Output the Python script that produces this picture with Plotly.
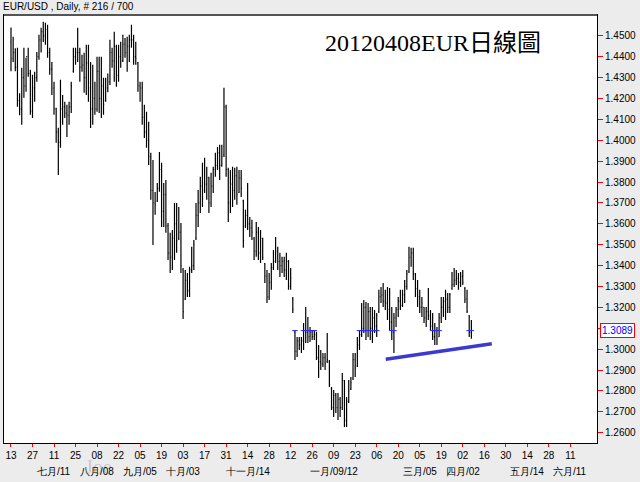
import plotly.graph_objects as go

# ---------------- data (EUR/USD daily, 2011-06-13 .. 2012-04-06) ----------------
bar_index = list(range(215))

opens = [1.4470,1.4390,1.4420,1.4350,1.4190,1.4150,1.4300,1.4260,1.4400,1.4320,
1.4140,1.4250,1.4300,1.4400,1.4480,1.4520,1.4500,1.4530,1.4420,1.4340,
1.4250,1.4150,1.4040,1.3990,1.4150,1.4160,1.4130,1.4120,1.4160,1.4330,
1.4400,1.4420,1.4420,1.4350,1.4360,1.4300,1.4370,1.4250,1.4150,1.4200,
1.4150,1.4330,1.4200,1.4260,1.4190,1.4250,1.4280,1.4420,1.4380,1.4450,
1.4310,1.4400,1.4380,1.4460,1.4420,1.4450,1.4480,1.4480,1.4400,1.4370,
1.4260,1.4250,1.4110,1.4040,1.4000,1.3920,1.3760,1.3700,1.3710,1.3770,
1.3860,1.3660,1.3740,1.3590,1.3460,1.3440,1.3530,1.3600,1.3530,1.3560,
1.3380,1.3240,1.3330,1.3280,1.3380,1.3400,1.3530,1.3640,1.3700,1.3780,
1.3760,1.3790,1.3820,1.3700,1.3780,1.3860,1.3880,1.3940,1.3880,1.3930,
1.4160,1.3860,1.3700,1.3790,1.3760,1.3830,1.3750,1.3820,1.3710,1.3590,
1.3640,1.3600,1.3580,1.3530,1.3470,1.3560,1.3460,1.3530,1.3410,1.3350,
1.3250,1.3320,1.3390,1.3420,1.3470,1.3420,1.3400,1.3420,1.3380,1.3420,
1.3300,1.3240,1.3080,1.2990,1.3040,1.3020,1.3040,1.3090,1.3080,1.3060,
1.3080,1.3060,1.3070,1.2960,1.2940,1.2930,1.2960,1.2940,1.2940,1.2810,
1.2720,1.2780,1.2720,1.2760,1.2720,1.2850,1.2660,1.2750,1.2810,1.2860,
1.2950,1.2920,1.3020,1.3070,1.3100,1.3200,1.3090,1.3180,1.3100,1.3150,
1.3110,1.3180,1.3250,1.3260,1.3230,1.3220,1.3190,1.3130,1.3080,1.3150,
1.3190,1.3230,1.3210,1.3260,1.3300,1.3370,1.3440,1.3460,1.3360,1.3290,
1.3250,1.3200,1.3200,1.3150,1.3180,1.3160,1.3110,1.3060,1.3090,1.3060,
1.3150,1.3200,1.3230,1.3240,1.3200,1.3290,1.3310,1.3330,1.3340,1.3320,
1.3350,1.3290,1.3240,1.3160,1.3080]

highs = [1.4540,1.4495,1.4440,1.4443,1.4225,1.4347,1.4443,1.4395,1.4443,1.4337,
1.4313,1.4328,1.4423,1.4505,1.4538,1.4567,1.4562,1.4553,1.4443,1.4375,
1.4280,1.4155,1.4060,1.4289,1.4217,1.4184,1.4170,1.4184,1.4280,1.4443,
1.4443,1.4538,1.4443,1.4409,1.4419,1.4457,1.4457,1.4375,1.4361,1.4280,
1.4400,1.4400,1.4400,1.4299,1.4299,1.4320,1.4481,1.4443,1.4519,1.4457,
1.4457,1.4471,1.4505,1.4490,1.4495,1.4505,1.4553,1.4505,1.4471,1.4375,
1.4280,1.4280,1.4170,1.4136,1.4088,1.3940,1.3906,1.3752,1.3796,1.3944,
1.3892,1.3796,1.3810,1.3604,1.3557,1.3571,1.3700,1.3700,1.3681,1.3604,
1.3389,1.3379,1.3365,1.3394,1.3490,1.3523,1.3700,1.3762,1.3825,1.3892,
1.3916,1.3873,1.3825,1.3844,1.3873,1.3940,1.3968,1.3978,1.3978,1.4251,
1.4170,1.3868,1.3858,1.3873,1.3868,1.3873,1.3858,1.3858,1.3715,1.3667,
1.3796,1.3633,1.3619,1.3537,1.3609,1.3585,1.3571,1.3533,1.3413,1.3379,
1.3365,1.3413,1.3475,1.3537,1.3490,1.3461,1.3442,1.3442,1.3461,1.3427,
1.3389,1.3250,1.3092,1.3058,1.3058,1.3058,1.3125,1.3202,1.3154,1.3106,
1.3092,1.3092,1.3083,1.3020,1.2996,1.2982,1.2982,1.3078,1.2948,1.2819,
1.2805,1.2790,1.2790,1.2771,1.2886,1.2852,1.2771,1.2852,1.2867,1.2982,
1.2982,1.3058,1.3092,1.3221,1.3236,1.3226,1.3221,1.3202,1.3202,1.3188,
1.3173,1.3284,1.3298,1.3317,1.3284,1.3298,1.3293,1.3202,1.3173,1.3202,
1.3250,1.3284,1.3284,1.3331,1.3379,1.3490,1.3485,1.3485,1.3365,1.3331,
1.3284,1.3250,1.3202,1.3202,1.3293,1.3188,1.3173,1.3125,1.3106,1.3173,
1.3250,1.3250,1.3284,1.3269,1.3269,1.3370,1.3389,1.3379,1.3365,1.3370,
1.3379,1.3298,1.3284,1.3164,1.3140]

lows = [1.4330,1.4375,1.4330,1.4160,1.4120,1.4074,1.4203,1.4232,1.4304,1.4122,
1.4107,1.4184,1.4280,1.4385,1.4420,1.4470,1.4457,1.4395,1.4313,1.4217,
1.4122,1.3988,1.3834,1.3964,1.4074,1.4107,1.4016,1.4074,1.4131,1.4323,
1.4361,1.4375,1.4280,1.4328,1.4227,1.4217,1.4184,1.4059,1.4074,1.4122,
1.4136,1.4131,1.4107,1.4122,1.4184,1.4230,1.4265,1.4347,1.4280,1.4256,
1.4280,1.4347,1.4375,1.4395,1.4328,1.4375,1.4443,1.4361,1.4361,1.4232,
1.4184,1.4074,1.4011,1.3964,1.3882,1.3715,1.3499,1.3643,1.3705,1.3753,
1.3585,1.3585,1.3557,1.3427,1.3365,1.3379,1.3427,1.3461,1.3523,1.3365,
1.3145,1.3236,1.3250,1.3250,1.3365,1.3379,1.3523,1.3585,1.3652,1.3681,
1.3748,1.3715,1.3652,1.3681,1.3748,1.3825,1.3858,1.3810,1.3873,1.3920,
1.3825,1.3609,1.3652,1.3681,1.3715,1.3691,1.3748,1.3729,1.3485,1.3580,
1.3571,1.3537,1.3523,1.3427,1.3442,1.3427,1.3413,1.3427,1.3317,1.3221,
1.3236,1.3284,1.3379,1.3413,1.3379,1.3346,1.3365,1.3346,1.3331,1.3284,
1.3284,1.3173,1.2948,1.2963,1.2996,1.2982,1.2996,1.3030,1.3030,1.3034,
1.3044,1.3044,1.2948,1.2862,1.2900,1.2915,1.2900,1.2934,1.2819,1.2709,
1.2675,1.2694,1.2661,1.2675,1.2709,1.2627,1.2627,1.2742,1.2805,1.2852,
1.2867,1.2915,1.2996,1.3058,1.3078,1.3044,1.3058,1.3044,1.3030,1.3078,
1.3058,1.3173,1.3221,1.3202,1.3188,1.3140,1.3092,1.3044,1.2982,1.3106,
1.3154,1.3188,1.3202,1.3221,1.3284,1.3365,1.3394,1.3331,1.3250,1.3202,
1.3173,1.3154,1.3125,1.3106,1.3140,1.3092,1.3044,1.3020,1.3020,1.3058,
1.3125,1.3154,1.3140,1.3173,1.3173,1.3284,1.3298,1.3307,1.3284,1.3298,
1.3307,1.3221,1.3173,1.3058,1.3050]

closes = [1.4390,1.4420,1.4350,1.4190,1.4150,1.4300,1.4260,1.4400,1.4320,1.4140,
1.4250,1.4300,1.4400,1.4480,1.4520,1.4500,1.4530,1.4420,1.4340,1.4250,
1.4150,1.4040,1.3990,1.4150,1.4160,1.4130,1.4120,1.4160,1.4260,1.4400,
1.4420,1.4420,1.4350,1.4360,1.4300,1.4370,1.4250,1.4150,1.4200,1.4150,
1.4330,1.4200,1.4260,1.4170,1.4250,1.4280,1.4420,1.4380,1.4450,1.4310,
1.4400,1.4380,1.4460,1.4420,1.4450,1.4480,1.4480,1.4400,1.4390,1.4260,
1.4250,1.4110,1.4040,1.4000,1.3920,1.3760,1.3700,1.3690,1.3770,1.3860,
1.3660,1.3740,1.3590,1.3460,1.3440,1.3530,1.3600,1.3520,1.3560,1.3400,
1.3180,1.3330,1.3280,1.3380,1.3400,1.3500,1.3640,1.3700,1.3780,1.3720,
1.3790,1.3820,1.3700,1.3780,1.3860,1.3880,1.3940,1.3880,1.3920,1.4160,
1.3860,1.3700,1.3790,1.3760,1.3830,1.3740,1.3820,1.3770,1.3520,1.3640,
1.3600,1.3580,1.3560,1.3470,1.3560,1.3460,1.3530,1.3440,1.3350,1.3250,
1.3320,1.3390,1.3420,1.3470,1.3420,1.3400,1.3420,1.3380,1.3420,1.3300,
1.3340,1.3190,1.2990,1.3040,1.3020,1.3040,1.3090,1.3080,1.3060,1.3080,
1.3060,1.3070,1.2960,1.2940,1.2930,1.2960,1.2930,1.2950,1.2830,1.2720,
1.2780,1.2720,1.2760,1.2720,1.2850,1.2660,1.2750,1.2800,1.2840,1.2950,
1.2910,1.3020,1.3070,1.3100,1.3200,1.3090,1.3180,1.3100,1.3150,1.3110,
1.3160,1.3250,1.3260,1.3230,1.3220,1.3190,1.3130,1.3080,1.3150,1.3190,
1.3230,1.3210,1.3260,1.3300,1.3360,1.3440,1.3460,1.3360,1.3290,1.3250,
1.3200,1.3220,1.3150,1.3180,1.3160,1.3110,1.3060,1.3090,1.3050,1.3150,
1.3200,1.3230,1.3240,1.3200,1.3260,1.3310,1.3330,1.3340,1.3320,1.3350,
1.3320,1.3240,1.3180,1.3080,1.3089]

# x-axis ticks (every 10 trading days) and month labels
tick_pos = list(range(0, 261, 10))
tick_labels = ["13","27","11","25","08","22","05","19","03","17","31","14","28",
               "12","26","09","23","06","20","05","19","02","16","30","14","28","11"]
month_pos = [20, 40, 60, 80, 110, 150, 190, 210, 240, 260]
month_labels = ["七月/11","八月/08","九月/05","十月/03","十一月/14",
                "一月/09/12","三月/05","四月/02","五月/14","六月/11"]

y_ticks = [1.26, 1.27, 1.28, 1.29, 1.30, 1.31, 1.32, 1.33, 1.34, 1.35,
           1.36, 1.37, 1.38, 1.39, 1.40, 1.41, 1.42, 1.43, 1.44, 1.45]
last_price = 1.3089

trend_x = [174.2, 223.5]
trend_y = [1.2952, 1.3026]

# bars crossing the bid level
bid_x = [i for i in bar_index if lows[i] <= last_price <= highs[i]]
bid_y = [last_price] * len(bid_x)

# ---------------- figure ----------------
fig = go.Figure()
fig.add_trace(go.Ohlc(
    x=bar_index, open=opens, high=highs, low=lows, close=closes,
    increasing=dict(line=dict(color="#000000", width=1.2)),
    decreasing=dict(line=dict(color="#000000", width=1.2)),
    tickwidth=0.35, hoverinfo="skip", showlegend=False))

fig.add_trace(go.Scatter(
    x=bid_x, y=bid_y, mode="markers",
    marker=dict(symbol="line-ew", size=4, line=dict(color="#2a2aff", width=1)),
    hoverinfo="skip", showlegend=False))

fig.add_trace(go.Scatter(
    x=trend_x, y=trend_y, mode="lines",
    line=dict(color="#3a3ad0", width=3.5),
    hoverinfo="skip", showlegend=False))

fig.update_layout(
    width=640, height=482,
    margin=dict(l=4, r=43, t=15, b=39),
    paper_bgcolor="#ececec", plot_bgcolor="#ffffff",
    font=dict(family="Liberation Sans, Arial, sans-serif", size=10, color="#000000"),
    showlegend=False,
    xaxis=dict(
        range=[-3.25, 272.4], rangeslider=dict(visible=False), automargin=False,
        tickmode="array", tickvals=tick_pos, ticktext=tick_labels,
        ticks="outside", ticklen=3, tickcolor="#ff0000", tickwidth=1,
        showgrid=False, zeroline=False,
        showline=True, linecolor="#000000", linewidth=1, mirror=True,
        tickfont=dict(size=10, color="#000000"),
    ),
    yaxis=dict(
        side="right", range=[1.2551, 1.45995], automargin=False,
        tickmode="array", tickvals=y_ticks, showticklabels=False,
        ticks="outside", ticklen=5, tickcolor="#ff0000", tickwidth=1,
        showgrid=False, zeroline=False,
        showline=True, linecolor="#000000", linewidth=1, mirror=True,
    ),
    shapes=[dict(type="line", xref="paper", yref="paper", x0=0, x1=1, y0=1, y1=1,
                 line=dict(color="#555555", width=2))],
)

annotations = [
    dict(text="EUR/USD , Daily, # 216 / 700", xref="paper", yref="paper",
         x=-0.005, y=1.0187, xanchor="left", yanchor="middle", showarrow=False,
         font=dict(size=10, color="#000000")),
    dict(text="20120408EUR日線圖", xref="paper", yref="paper",
         x=0.538, y=0.9346, xanchor="left", yanchor="middle", showarrow=False,
         font=dict(family="Liberation Serif, Noto Sans CJK TC, serif", size=24, color="#000000")),
    dict(text="Joe", xref="paper", yref="paper",
         x=0.160, y=-0.056, xanchor="center", yanchor="middle", showarrow=False,
         font=dict(family="Liberation Serif, serif", size=20, color="rgba(110,110,140,0.30)")),
]
for v in y_ticks:
    if abs(v - last_price) < 0.006:
        continue  # hidden behind the current-price box
    annotations.append(dict(text=f"{v:.4f}", xref="paper", yref="y",
                            x=1.0095, y=v, xanchor="left", yanchor="middle",
                            showarrow=False, font=dict(size=10, color="#000000")))
annotations.append(dict(text=f"{last_price:.4f}", xref="paper", yref="y",
         x=1.005, y=last_price, xanchor="left", yanchor="middle", showarrow=False,
         font=dict(size=10, color="#0000ff"), bgcolor="#ffffff",
         bordercolor="#ff0000", borderwidth=1, borderpad=1))
for p, lab in zip(month_pos, month_labels):
    annotations.append(dict(text=lab, xref="x", yref="paper", x=p, y=-0.067,
                            xanchor="center", yanchor="middle", showarrow=False,
                            font=dict(size=10, color="#000000")))
fig.update_layout(annotations=annotations)

fig.write_html("out.html", config={"displayModeBar": False, "staticPlot": True})

# remove the browser's default page margin so the figure sits at (0, 0)
with open("out.html", "r", encoding="utf-8") as f:
    html = f.read()
html = html.replace("<head>", "<head><style>html,body{margin:0;padding:0;overflow:hidden;}</style>", 1)
with open("out.html", "w", encoding="utf-8") as f:
    f.write(html)
